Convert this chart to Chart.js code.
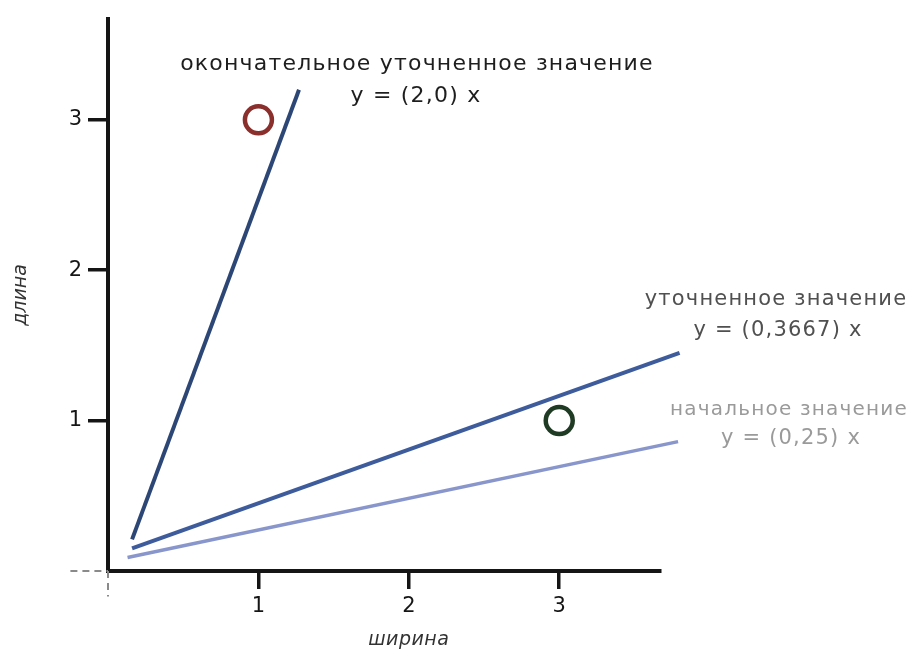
<!DOCTYPE html>
<html>
<head>
<meta charset="utf-8">
<script src="https://cdn.jsdelivr.net/npm/chart.js@4/dist/chart.umd.min.js"></script>
<style>
  html, body { margin: 0; padding: 0; background: #fff; }
  #wrap { width: 914px; height: 657px; }
</style>
</head>
<body>
<div id="wrap"><canvas id="chart" width="914" height="657"></canvas></div>
<script>
// --- data ---
const xTicks = [1, 2, 3];
const yTicks = [1, 2, 3];

const finalX = [0.16, 1.27];
const finalY = [0.21, 3.2];
const refinedX = [0.16, 3.8];
const refinedY = [0.15, 1.45];
const initialX = [0.13, 3.79];
const initialY = [0.09, 0.86];

const pointX = [1, 3];
const pointY = [3, 1];
const pointColors = ["#8a2f2c", "#1f3b24"];

// hand lettering next to the lines
const labels = [
  { text: "окончательное уточненное значение", x: 417, y: 64, color: "#1e1e1e", size: 22 },
  { text: "y = (2,0) x", x: 416, y: 96, color: "#1e1e1e", size: 22 },
  { text: "уточненное значение", x: 776, y: 300, color: "#505050", size: 21 },
  { text: "y = (0,3667) x", x: 778, y: 331, color: "#505050", size: 21 },
  { text: "начальное значение", x: 789, y: 410, color: "#9a9a9a", size: 20 },
  { text: "y = (0,25) x", x: 791, y: 439, color: "#9a9a9a", size: 21 },
];

const FONT = "'DejaVu Sans', sans-serif";

function toPoints(xs, ys) {
  return xs.map((x, i) => ({ x: x, y: ys[i] }));
}

// dashed bits of the axes left of / below the origin + the lettering
const sketchPlugin = {
  id: "sketch",
  afterDraw(chart) {
    const ctx = chart.ctx;
    const xs = chart.scales.x;
    const ys = chart.scales.y;
    const ox = xs.getPixelForValue(0);
    const oy = ys.getPixelForValue(0);

    ctx.save();
    ctx.strokeStyle = "#8a8a8a";
    ctx.lineWidth = 2;
    ctx.setLineDash([7, 5]);
    ctx.beginPath();
    ctx.moveTo(xs.getPixelForValue(-0.25), oy);
    ctx.lineTo(ox, oy);
    ctx.moveTo(ox, oy);
    ctx.lineTo(ox, ys.getPixelForValue(-0.17));
    ctx.stroke();
    ctx.restore();

    ctx.save();
    ctx.letterSpacing = "1.2px";
    ctx.textAlign = "center";
    ctx.textBaseline = "middle";
    labels.forEach(l => {
      ctx.font = l.size + "px " + FONT;
      ctx.fillStyle = l.color;
      ctx.fillText(l.text, l.x, l.y);
    });
    ctx.restore();

    // x axis title, sits a bit right of the plot centre in the original
    ctx.save();
    ctx.font = "italic 19px " + FONT;
    ctx.letterSpacing = "0.5px";
    ctx.fillStyle = "#333";
    ctx.textAlign = "center";
    ctx.textBaseline = "middle";
    ctx.fillText("ширина", xs.getPixelForValue(2.0), 640);
    ctx.restore();
  }
};

const ctx = document.getElementById("chart").getContext("2d");

new Chart(ctx, {
  type: "scatter",
  data: {
    datasets: [
      {
        label: "final",
        data: toPoints(finalX, finalY),
        showLine: true,
        borderColor: "#2c4675",
        borderWidth: 4,
        pointRadius: 0,
        clip: false,
      },
      {
        label: "refined",
        data: toPoints(refinedX, refinedY),
        showLine: true,
        borderColor: "#3e5c9c",
        borderWidth: 4,
        pointRadius: 0,
        clip: false,
      },
      {
        label: "initial",
        data: toPoints(initialX, initialY),
        showLine: true,
        borderColor: "#8896cc",
        borderWidth: 3.5,
        pointRadius: 0,
        clip: false,
      },
      {
        label: "points",
        data: toPoints(pointX, pointY),
        showLine: false,
        pointRadius: 13.5,
        pointBorderWidth: 4.5,
        pointBackgroundColor: "#ffffff",
        pointBorderColor: pointColors,
        clip: false,
      },
    ],
  },
  options: {
    responsive: false,
    animation: false,
    layout: { padding: { top: 19, right: 254, left: 0, bottom: 0 } },
    plugins: { legend: { display: false }, tooltip: { enabled: false } },
    scales: {
      x: {
        type: "linear",
        min: 0,
        max: 3.67,
        afterBuildTicks: (scale) => { scale.ticks = xTicks.map(v => ({ value: v })); },
        afterFit: (scale) => { scale.height = 86; },
        border: { display: true, color: "#151515", width: 4 },
        grid: { display: true, drawOnChartArea: false, drawTicks: true, tickLength: 18, color: "#151515", lineWidth: 3.5 },
        ticks: { color: "#151515", padding: 5, font: { family: FONT, size: 21 } },
        title: { display: false },
      },
      y: {
        type: "linear",
        min: 0,
        max: 3.67,
        afterBuildTicks: (scale) => { scale.ticks = yTicks.map(v => ({ value: v })); },
        afterFit: (scale) => { scale.width = 108; },
        border: { display: true, color: "#151515", width: 4 },
        grid: { display: true, drawOnChartArea: false, drawTicks: true, tickLength: 20, color: "#151515", lineWidth: 3.5 },
        ticks: { color: "#151515", padding: 6, font: { family: FONT, size: 21 } },
        title: { display: true, text: "длина", color: "#333", padding: { top: 10, bottom: 0 }, font: { family: FONT, size: 19, style: "italic" } },
      },
    },
  },
  plugins: [sketchPlugin],
});
</script>
</body>
</html>
